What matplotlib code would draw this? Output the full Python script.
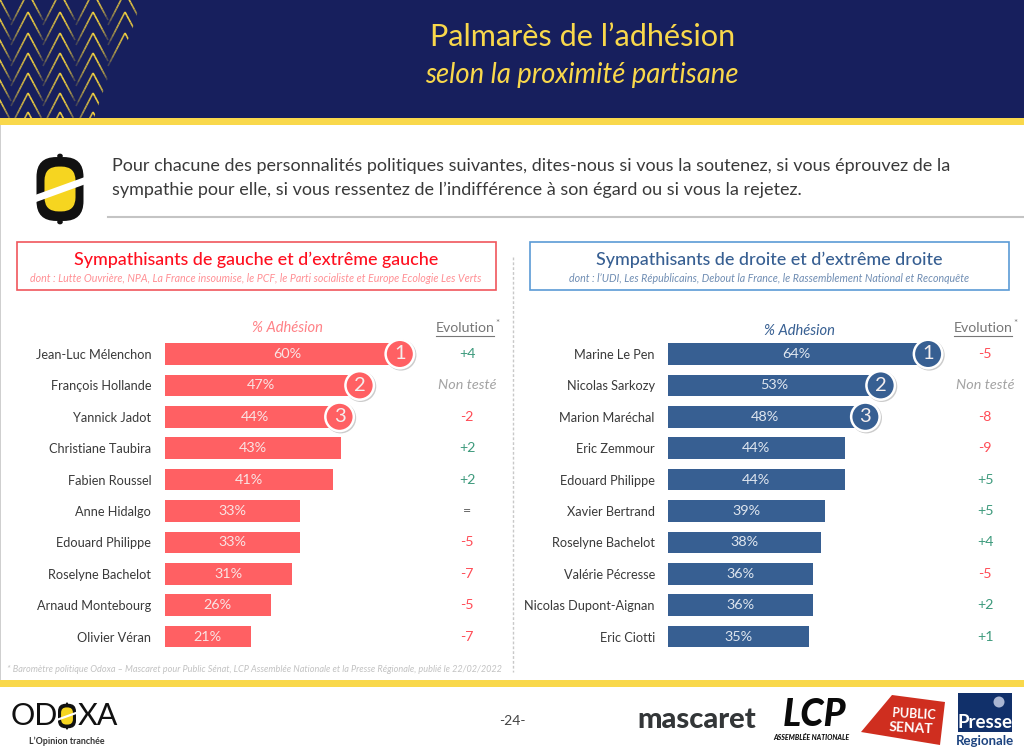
import matplotlib
matplotlib.use("Agg")
import matplotlib.pyplot as plt
import matplotlib.patheffects as pe
from matplotlib.collections import LineCollection
from matplotlib.patches import Ellipse, FancyBboxPatch, Polygon, Rectangle

plt.rcParams["font.family"] = ["Lato", "DejaVu Sans"]

W, H = 1024, 752

left_names = ["Jean-Luc Mélenchon", "François Hollande", "Yannick Jadot", "Christiane Taubira",
              "Fabien Roussel", "Anne Hidalgo", "Edouard Philippe", "Roselyne Bachelot",
              "Arnaud Montebourg", "Olivier Véran"]
left_values = [60, 47, 44, 43, 41, 33, 33, 31, 26, 21]
left_evolution = ["+4", "Non testé", "-2", "+2", "+2", "=", "-5", "-7", "-5", "-7"]

right_names = ["Marine Le Pen", "Nicolas Sarkozy", "Marion Maréchal", "Eric Zemmour",
               "Edouard Philippe", "Xavier Bertrand", "Roselyne Bachelot", "Valérie Pécresse",
               "Nicolas Dupont-Aignan", "Eric Ciotti"]
right_values = [64, 53, 48, 44, 44, 39, 38, 36, 36, 35]
right_evolution = ["-5", "Non testé", "-8", "-9", "+5", "+5", "+4", "-5", "+2", "+1"]

# where the rank badges sit on the value axis
left_badges = [57.4, 47.6, 42.7]
right_badges = [64.7, 52.9, 49.1]

NAVY = "#171f5d"
GOLD = "#f9d84b"
GREEN = "#3d9a7c"
RED = "#ff4b55"
TEXT = "#3a3a3a"
BLUE_BAR = "#375f92"
RED_BAR = "#ff6063"


def evo_color(label):
    if label.startswith("+"):
        return GREEN
    if label == "=":
        return "#666666"
    return RED


def draw_panel(fig, page, names, values, evolution, badges, color, x0, px_per_pct, evo_x, head_x, head_y):
    # bar axes placed so that one row is 31.4 px and row 0 is centred on y=354
    top, step = 354 - 0.5 * 31.4, 31.4
    height = step * len(names)
    xmax = 75
    ax = fig.add_axes([x0 / W, 1 - (top + height) / H, xmax * px_per_pct / W, height / H])
    ax.patch.set_alpha(0)
    rows = list(range(len(names)))
    bars = ax.barh(rows, values, height=21.5 / step, color=color, linewidth=0)
    ax.set_xlim(0, xmax)
    ax.set_ylim(len(names) - 0.5, -0.5)
    ax.set_yticks(rows, names, fontsize=9.2, color=TEXT)
    ax.tick_params(axis="y", length=0, pad=9.5)
    ax.set_xticks([])
    for s in ax.spines.values():
        s.set_visible(False)
    ax.bar_label(bars, labels=[f"{v}%" for v in values], label_type="center",
                 color="#f9e4e4" if color == RED_BAR else "#dfe6ef", fontsize=10.4)

    shadow = [pe.SimpleLineShadow(offset=(0.8, -0.8), alpha=0.2), pe.Normal()]
    for i, b in enumerate(badges):
        ax.plot(b, i, "o", ms=20.5, mfc=color, mec="white", mew=1.8, clip_on=False, path_effects=shadow, zorder=5)
        ax.text(b, i, str(i + 1), ha="center", va="center", color="#f4eeee", fontsize=14.5, zorder=6)

    page.text(head_x, head_y, "% Adhésion", ha="center", va="center", style="italic", fontsize=10.6,
              color=color if color == BLUE_BAR else "#ff8287")
    page.text(evo_x - 2, 328, "Evolution", ha="center", va="center", fontsize=10.2, color="#777777")
    page.plot([evo_x - 31, evo_x + 27], [335.5, 335.5], color="#777777", lw=0.8)
    page.text(evo_x + 28, 324, "*", ha="left", va="center", fontsize=7, color="#777777")
    for i, label in enumerate(evolution):
        y = 354 + i * step
        if label == "Non testé":
            page.text(evo_x, y, label, ha="center", va="center", style="italic", fontsize=10.4, color="#a3a3a3")
        else:
            page.text(evo_x, y, label, ha="center", va="center", fontsize=10.2, color=evo_color(label))


def draw_chevrons(page):
    # decorative herringbone in the header, each strand fading away from its apex
    segs, cols = [], []
    for cx in (-4, 28, 60, 93, 125):
        for ay in (-8, 12, 33, 53, 73, 93, 112):
            for dx, dy, bright in ((-17, 33, 0.85), (15, 28, 1.0)):
                for k in range(8):
                    t0, t1 = k / 8, (k + 1) / 8
                    segs.append([(cx + dx * t0, ay + dy * t0), (cx + dx * t1, ay + dy * t1)])
                    cols.append((0.95, 0.82, 0.25, bright * (1 - t0 ** 2.2)))
    lines = LineCollection(segs, colors=cols, linewidths=1.2)
    page.add_collection(lines)
    region = Polygon([(0, 0), (141, 0), (135, 22), (127, 42), (110, 72), (94, 118), (0, 118)], closed=True,
                     fc="none", ec="none", transform=page.transData)
    page.add_patch(region)
    lines.set_clip_path(region)


def draw_mark(page, cx, cy, w, h, lw):
    # Odoxa lemon: black shell with nubs, yellow core, white slash
    r = w * 0.42
    shell = FancyBboxPatch((cx - w / 2 + r, cy - h * 0.47 + r), w - 2 * r, h * 0.94 - 2 * r,
                           boxstyle=f"round,pad={r},rounding_size={r}", fc="#111111", ec="none")
    page.add_patch(shell)
    rc = w * 0.3
    core = FancyBboxPatch((cx - w * 0.33 + rc, cy - h * 0.33 + rc), w * 0.66 - 2 * rc, h * 0.66 - 2 * rc,
                          boxstyle=f"round,pad={rc},rounding_size={rc}", fc="#f6d520", ec="none")
    page.add_patch(core)
    for sy in (-0.485, 0.485):
        page.add_patch(Ellipse((cx, cy + sy * h), w * 0.12, h * 0.07, fc="#111111", ec="none"))
    page.plot([cx - w * 0.56, cx + w * 0.56], [cy + h * 0.15, cy - h * 0.13], color="white", lw=lw, solid_capstyle="butt")


fig = plt.figure(figsize=(W / 100, H / 100), dpi=100, facecolor="white")
page = fig.add_axes([0, 0, 1, 1])
page.set_xlim(0, W)
page.set_ylim(H, 0)
page.axis("off")

# header
page.add_patch(Rectangle((0, 0), W, 118, fc=NAVY, ec="none"))
page.add_patch(Rectangle((0, 118), W, 7, fc=GOLD, ec="none"))
page.add_patch(Rectangle((0, 680), W, 7, fc=GOLD, ec="none"))
page.add_patch(Rectangle((0, 125), 1, 555, fc="#cfcfcf", ec="none"))
draw_chevrons(page)
page.text(583, 37, "Palmarès de l’adhésion", ha="center", va="center", color=GOLD, fontsize=22.1)
page.text(582, 75, "selon la proximité partisane", ha="center", va="center", color=GOLD, fontsize=19.8, style="italic")

# question
draw_mark(page, 60, 189, 47, 68, 5)
page.text(112, 166, "Pour chacune des personnalités politiques suivantes, dites-nous si vous la soutenez, si vous éprouvez de la",
          ha="left", va="center", fontsize=13, color=TEXT)
page.text(112, 190, "sympathie pour elle, si vous ressentez de l’indifférence à son égard ou si vous la rejetez.",
          ha="left", va="center", fontsize=13, color=TEXT)
page.plot([108, W], [216.5, 216.5], color="#c4c4c4", lw=1.5)

# group boxes
page.add_patch(Rectangle((17, 242), 479, 48, fc="white", ec="#f0565c", lw=1.2))
page.text(256, 260, "Sympathisants de gauche et d’extrême gauche", ha="center", va="center", color="#ff0f1f",
          fontsize=12.9, fontweight="medium")
page.text(256, 278.5, "dont : Lutte Ouvrière, NPA, La France insoumise, le PCF, le Parti socialiste et Europe Ecologie Les Verts",
          ha="center", va="center", color="#ff8f94", fontsize=7.65, style="italic")
page.add_patch(Rectangle((530, 242), 479, 48, fc="white", ec="#5b9bd5", lw=1.2))
page.text(769, 260, "Sympathisants de droite et d’extrême droite", ha="center", va="center", color=BLUE_BAR,
          fontsize=12.9, fontweight="medium")
page.text(769, 278, "dont : l’UDI, Les Républicains, Debout la France, le Rassemblement National et Reconquête",
          ha="center", va="center", color="#6f8db3", fontsize=7.7, style="italic")
page.plot([513, 513], [257, 672], color="#c8c8c8", lw=1, ls=(0, (2, 1.5)))

draw_panel(fig, page, left_names, left_values, left_evolution, left_badges, RED_BAR, 164.5, 4.1, 467, 288, 328)
draw_panel(fig, page, right_names, right_values, right_evolution, right_badges, BLUE_BAR, 668, 4.02, 985, 799, 331)

page.text(7, 670, "* Baromètre politique Odoxa – Mascaret pour Public Sénat, LCP Assemblée Nationale et la Presse Régionale, publié le 22/02/2022",
          ha="left", va="center", fontsize=6.6, style="italic", color="#c2c2c2")

# footer logos
page.text(11, 716, "OD", ha="left", va="center", fontsize=22, color="#111111")
draw_mark(page, 67, 716, 18, 26, 1.6)
page.text(78, 716, "XA", ha="left", va="center", fontsize=22, color="#111111")
page.text(67, 741, "L’Opinion tranchée", ha="center", va="center", fontsize=6.4, fontweight="bold", color="#333333")
page.text(512, 721, "-24-", ha="center", va="center", fontsize=10, color="#444444")
page.text(697, 720, "mascaret", ha="center", va="center", fontsize=21, fontweight="black", color="#333638")
page.text(815, 715, "LCP", ha="center", va="center", fontsize=27, fontweight="black", style="italic", color="#0a0a0a")
page.text(811, 737, "ASSEMBLÉE NATIONALE", ha="center", va="center", fontsize=5, fontweight="black", style="italic", color="#111111")
page.add_patch(Polygon([(861, 732), (892, 695), (945, 702), (940, 745)], closed=True, fc="#cf2e1f", ec="none"))
page.text(914, 714, "PUBLIC", ha="center", va="center", fontsize=9, fontweight="bold", color="white", rotation=-3)
page.text(911, 728, "SENAT", ha="center", va="center", fontsize=10, fontweight="bold", color="white", rotation=-3)
page.add_patch(Rectangle((958, 693), 54, 39, fc="#11306a", ec="none"))
page.text(985, 723, "Presse", ha="center", va="center", fontsize=13.5, fontweight="bold", color="white")
page.add_patch(Ellipse((999, 702), 11, 11, fc="#aab6d2", ec="none"))
page.text(985, 741, "Regionale", ha="center", va="center", fontsize=9.5, fontweight="bold", color="#1d4480")

fig.savefig("out.png", dpi=100, facecolor="white")
